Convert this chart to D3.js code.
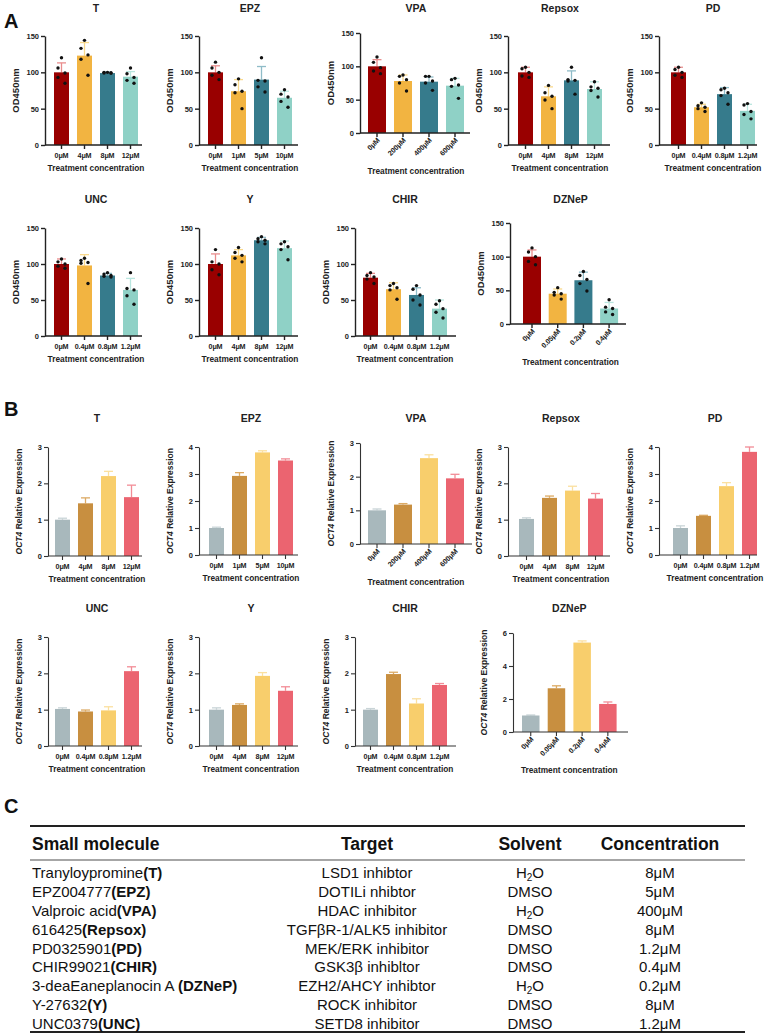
<!DOCTYPE html>
<html lang="en">
<head>
<meta charset="UTF-8">
<title>Small molecule screen</title>
<script src="https://d3js.org/d3.v7.min.js"></script>
<style>
  body { margin: 0; background: #fff; }
  svg { display: block; font-family: "Liberation Sans", Arial, sans-serif; }
</style>
</head>
<body>
<div id="chart"></div>
<script>
// ---- data ----
const drugs = ["T", "EPZ", "VPA", "Repsox", "PD", "UNC", "Y", "CHIR", "DZNeP"];

const concentrations = [
  ["0μM", "4μM", "8μM", "12μM"],
  ["0μM", "1μM", "5μM", "10μM"],
  ["0μM", "200μM", "400μM", "600μM"],
  ["0μM", "4μM", "8μM", "12μM"],
  ["0μM", "0.4μM", "0.8μM", "1.2μM"],
  ["0μM", "0.4μM", "0.8μM", "1.2μM"],
  ["0μM", "4μM", "8μM", "12μM"],
  ["0μM", "0.4μM", "0.8μM", "1.2μM"],
  ["0μM", "0.05μM", "0.2μM", "0.4μM"]
];

// panel A: OD450nm, mean and SD (upper)
const odMean = [
  [100, 123, 99, 94], [100, 74, 90, 65], [100, 78, 77, 71],
  [100, 67, 89, 77], [100, 52, 70, 47], [100, 98, 84, 64],
  [100, 112, 133, 122], [81, 65, 57, 38], [100, 45, 65, 23]
];
const odSD = [
  [13, 18, 1.5, 7], [9, 16, 18, 9], [10, 9, 7, 11],
  [7, 13, 13, 10], [7, 4, 9, 9], [7, 15, 3, 16],
  [14, 8, 4, 10], [6, 9, 10, 12], [10, 7, 12, 9]
];
const odPoints = [
  [[120, 106, 99, 93, 85], [144, 133, 124, 118, 96], [100, 100, 99, 99, 99], [106, 98, 93, 89, 85]],
  [[114, 106, 100, 96, 90], [91, 83, 74, 72, 50], [120, 89, 88, 80, 73], [76, 70, 66, 60, 52]],
  [[114, 106, 98, 93, 89], [87, 85, 80, 75, 63], [85, 85, 78, 75, 64], [82, 80, 72, 70, 52]],
  [[107, 105, 100, 95, 93], [82, 72, 67, 62, 50], [107, 90, 89, 88, 70], [87, 80, 78, 75, 66]],
  [[107, 104, 100, 96, 93], [58, 54, 52, 50, 46], [78, 76, 72, 68, 56], [57, 55, 46, 42, 36]],
  [[107, 103, 100, 97, 94], [108, 105, 102, 101, 73], [88, 86, 84, 83, 82], [88, 66, 64, 56, 44]],
  [[120, 103, 100, 92, 85], [123, 116, 112, 108, 103], [138, 135, 133, 131, 128], [131, 128, 124, 120, 106]],
  [[88, 84, 82, 79, 73], [73, 70, 67, 64, 51], [70, 65, 57, 50, 43], [49, 44, 38, 33, 25]],
  [[113, 107, 100, 93, 88], [54, 47, 45, 43, 37], [78, 72, 66, 60, 49], [36, 25, 23, 18, 14]]
];
const odTicks = [0, 50, 100, 150];

// panel B: OCT4 relative expression, mean and SD (upper)
const oct4Mean = [
  [1.0, 1.45, 2.2, 1.62], [1.0, 2.93, 3.8, 3.5], [1.0, 1.17, 2.55, 1.95],
  [1.02, 1.6, 1.8, 1.58], [1.0, 1.45, 2.55, 3.82], [1.02, 0.95, 0.98, 2.06],
  [1.0, 1.13, 1.93, 1.52], [1.0, 1.98, 1.17, 1.68], [1.0, 2.65, 5.42, 1.7]
];
const oct4SD = [
  [0.04, 0.15, 0.13, 0.33], [0.03, 0.12, 0.06, 0.06], [0.04, 0.03, 0.1, 0.12],
  [0.03, 0.05, 0.12, 0.14], [0.08, 0.02, 0.13, 0.18], [0.03, 0.04, 0.1, 0.12],
  [0.05, 0.03, 0.09, 0.11], [0.03, 0.05, 0.13, 0.04], [0.03, 0.15, 0.1, 0.12]
];
const oct4Ticks = [
  [0, 1, 2, 3], [0, 1, 2, 3, 4], [0, 1, 2, 3], [0, 1, 2, 3], [0, 1, 2, 3, 4],
  [0, 1, 2, 3], [0, 1, 2, 3], [0, 1, 2, 3], [0, 2, 4, 6]
];

// panel C table
const tableHeaders = ["Small molecule", "Target", "Solvent", "Concentration"];
const moleculeNames = ["Tranyloypromine", "EPZ004777", "Valproic acid", "616425", "PD0325901",
  "CHIR99021", "3-deaEaneplanocin A ", "Y-27632", "UNC0379"];
const moleculeAbbr = ["(T)", "(EPZ)", "(VPA)", "(Repsox)", "(PD)", "(CHIR)", "(DZNeP)", "(Y)", "(UNC)"];
const targets = ["LSD1 inhibtor", "DOTILi nhibtor", "HDAC inhibitor", "TGFβR-1/ALK5 inhibitor",
  "MEK/ERK inhibitor", "GSK3β inhibltor", "EZH2/AHCY inhibtor", "ROCK inhibitor", "SETD8 inhibitor"];
const solvents = ["H2O", "DMSO", "H2O", "DMSO", "DMSO", "DMSO", "H2O", "DMSO", "DMSO"];
const tableConc = ["8μM", "5μM", "400μM", "8μM", "1.2μM", "0.4μM", "0.2μM", "8μM", "1.2μM"];

// ---- layout ----
const colorsA = ["#990000", "#f2b441", "#367b8c", "#8fd1c6"];
const errColorsA = ["#e98d8d", "#f9d98c", "#8fbcc8", "#b9e6df"];
const colorsB = ["#a8b8bc", "#c88f40", "#f8ce6c", "#eb6470"];
const errColorsB = ["#c9d4d7", "#dcaa64", "#fbe0a0", "#f28c96"];

const layoutA = [
  {ax: 45, xEnd: 142, top: 36, bottom: 145, bar0: 54, titleY: 12},
  {ax: 199, xEnd: 298, top: 36, bottom: 145, bar0: 208, titleY: 12},
  {ax: 360, xEnd: 470, top: 33, bottom: 133, bar0: 368, step: 26, bw: 18, rot: true, titleY: 12},
  {ax: 508, xEnd: 610, top: 36, bottom: 145, bar0: 518, titleY: 12},
  {ax: 659, xEnd: 757, top: 36, bottom: 145, bar0: 671, titleY: 12},
  {ax: 45, xEnd: 142, top: 228, bottom: 336, bar0: 54, titleY: 203},
  {ax: 199, xEnd: 298, top: 228, bottom: 336, bar0: 208, titleY: 203},
  {ax: 355, xEnd: 456, top: 228, bottom: 336, bar0: 363, titleY: 203},
  {ax: 510, xEnd: 626, top: 223, bottom: 324, bar0: 523, step: 25.7, bw: 18, rot: true, titleY: 203}
];
const layoutB = [
  {ax: 48, xEnd: 142, top: 447, bottom: 556, bar0: 55, titleY: 422},
  {ax: 199, xEnd: 298, top: 447, bottom: 555, bar0: 209, titleY: 422},
  {ax: 360, xEnd: 472, top: 443, bottom: 544, bar0: 368, step: 26, bw: 18, rot: true, titleY: 422},
  {ax: 508, xEnd: 610, top: 447, bottom: 556, bar0: 519, titleY: 422},
  {ax: 659, xEnd: 757, top: 447, bottom: 555, bar0: 673, titleY: 422},
  {ax: 48, xEnd: 142, top: 637, bottom: 746, bar0: 55, titleY: 612},
  {ax: 199, xEnd: 298, top: 637, bottom: 746, bar0: 209, titleY: 612},
  {ax: 355, xEnd: 456, top: 637, bottom: 746, bar0: 363, titleY: 612},
  {ax: 513, xEnd: 628, top: 633, bottom: 732, bar0: 522, step: 25.7, bw: 17.5, rot: true, titleY: 612}
];

const dotOffsets = [0, -3.5, 3.5, -3.5, 3.5];

const svg = d3.select("#chart").append("svg")
  .attr("width", 767)
  .attr("height", 1034);

function drawPanel(cfg) {
  const lay = cfg.lay;
  const step = lay.step || 23;
  const bw = lay.bw || 15;
  const g = svg.append("g");

  const x = d3.scaleBand()
    .domain(cfg.labels)
    .range([lay.bar0, lay.bar0 + 3 * step + bw])
    .paddingInner((step - bw) / step)
    .paddingOuter(0);
  const y = d3.scaleLinear()
    .domain([0, d3.max(cfg.ticks)])
    .range([lay.bottom, lay.top]);
  const cx = (i) => x(cfg.labels[i]) + x.bandwidth() / 2;
  const mid = (lay.bar0 + lay.bar0 + 3 * step + bw) / 2;

  // error bars (upper half, drawn behind the bar top)
  const eb = g.selectAll(".err").data(cfg.means).join("g");
  eb.append("line")
    .attr("x1", (d, i) => cx(i)).attr("x2", (d, i) => cx(i))
    .attr("y1", (d) => y(d)).attr("y2", (d, i) => y(d + cfg.sd[i]))
    .attr("stroke", (d, i) => cfg.errColors[i]).attr("stroke-width", 1.3);
  eb.append("line")
    .attr("x1", (d, i) => cx(i) - 4.5).attr("x2", (d, i) => cx(i) + 4.5)
    .attr("y1", (d, i) => y(d + cfg.sd[i])).attr("y2", (d, i) => y(d + cfg.sd[i]))
    .attr("stroke", (d, i) => cfg.errColors[i]).attr("stroke-width", 1.3);

  // bars
  g.selectAll(".bar").data(cfg.means).join("rect")
    .attr("x", (d, i) => x(cfg.labels[i]))
    .attr("y", (d) => y(d))
    .attr("width", x.bandwidth())
    .attr("height", (d) => y(0) - y(d))
    .attr("fill", (d, i) => cfg.colors[i]);

  // individual points
  if (cfg.points) {
    cfg.points.forEach((pts, i) => {
      g.selectAll(null).data(pts).join("circle")
        .attr("cx", (d, j) => cx(i) + dotOffsets[j])
        .attr("cy", (d) => y(d))
        .attr("r", 1.7)
        .attr("fill", "#111");
    });
  }

  // y axis
  const yAxis = g.append("g")
    .attr("transform", `translate(${lay.ax},0)`)
    .call(d3.axisLeft(y).tickValues(cfg.ticks).tickFormat(d3.format("d"))
      .tickSize(4).tickSizeOuter(0).tickPadding(2));
  yAxis.selectAll("path, line").attr("stroke", cfg.axisColor).attr("stroke-width", cfg.axisWidth);
  yAxis.selectAll("text")
    .attr("font-size", cfg.tickFont).attr("font-weight", "bold").attr("fill", "#222")
    .attr("font-family", "'Liberation Sans', Arial, sans-serif");

  // x axis
  g.append("line")
    .attr("x1", lay.ax).attr("x2", lay.xEnd)
    .attr("y1", y(0)).attr("y2", y(0))
    .attr("stroke", cfg.axisColor).attr("stroke-width", cfg.axisWidth);
  g.selectAll(".xt").data(cfg.labels).join("line")
    .attr("x1", (d, i) => cx(i)).attr("x2", (d, i) => cx(i))
    .attr("y1", y(0)).attr("y2", y(0) + 4)
    .attr("stroke", cfg.axisColor).attr("stroke-width", cfg.axisWidth);

  const xl = g.selectAll(".xl").data(cfg.labels).join("text")
    .attr("font-size", 7.2).attr("font-weight", "bold").attr("fill", "#222")
    .attr("letter-spacing", -0.2)
    .text((d) => d);
  if (lay.rot) {
    xl.attr("text-anchor", "end")
      .attr("transform", (d, i) => `translate(${cx(i) + 3},${y(0) + 8}) rotate(-45)`);
  } else {
    xl.attr("text-anchor", "middle")
      .attr("x", (d, i) => cx(i)).attr("y", y(0) + 13);
  }

  g.append("text")
    .attr("x", mid)
    .attr("y", y(0) + (lay.rot ? 41 : 26))
    .attr("text-anchor", "middle")
    .attr("font-size", 8.3).attr("font-weight", "bold").attr("fill", "#222")
    .text("Treatment concentration");

  // title
  g.append("text")
    .attr("x", mid).attr("y", lay.titleY)
    .attr("text-anchor", "middle")
    .attr("font-size", 10.5).attr("font-weight", "bold").attr("fill", "#222")
    .text(cfg.title);

  // y label
  const yl = g.append("text")
    .attr("transform", `translate(${lay.ax - 26},${(lay.top + lay.bottom) / 2}) rotate(-90)`)
    .attr("text-anchor", "middle")
    .attr("font-weight", "bold").attr("fill", "#222");
  if (cfg.yItalic) {
    yl.attr("font-size", 8.5);
    yl.append("tspan").attr("font-style", "italic").text(cfg.yItalic);
    yl.append("tspan").text(cfg.yLabel);
  } else {
    yl.attr("font-size", 9.5).text(cfg.yLabel);
  }
}

drugs.forEach((name, i) => {
  drawPanel({
    lay: layoutA[i], labels: concentrations[i], means: odMean[i], sd: odSD[i],
    points: odPoints[i], ticks: odTicks, colors: colorsA, errColors: errColorsA,
    title: name, yLabel: "OD450nm", axisColor: "#222", axisWidth: 1.4, tickFont: 7.5
  });
  drawPanel({
    lay: layoutB[i], labels: concentrations[i], means: oct4Mean[i], sd: oct4SD[i],
    points: null, ticks: oct4Ticks[i], colors: colorsB, errColors: errColorsB,
    title: name, yItalic: "OCT4", yLabel: " Relative Expression",
    axisColor: "#333", axisWidth: 1.1, tickFont: 7.5
  });
});

// panel letters
[["A", 28], ["B", 416], ["C", 813]].forEach(([t, yy]) => {
  svg.append("text")
    .attr("x", 4).attr("y", yy)
    .attr("font-size", 20).attr("font-weight", "bold").attr("fill", "#111")
    .text(t);
});

// ---- table ----
const colX = [32, 367, 530, 660];
const tbl = svg.append("g").attr("fill", "#111");

tbl.append("line").attr("x1", 30).attr("x2", 745).attr("y1", 826).attr("y2", 826)
  .attr("stroke", "#222").attr("stroke-width", 2);
tbl.append("line").attr("x1", 30).attr("x2", 745).attr("y1", 860).attr("y2", 860)
  .attr("stroke", "#888").attr("stroke-width", 1.5);
tbl.append("line").attr("x1", 30).attr("x2", 745).attr("y1", 1032).attr("y2", 1032)
  .attr("stroke", "#222").attr("stroke-width", 2);

tbl.selectAll(".hd").data(tableHeaders).join("text")
  .attr("x", (d, i) => colX[i]).attr("y", 850)
  .attr("text-anchor", (d, i) => (i === 0 ? "start" : "middle"))
  .attr("font-size", 17.5).attr("font-weight", "bold")
  .text((d) => d);

const rowY = d3.scalePoint().domain(d3.range(moleculeNames.length)).range([878, 1029]);

const nameText = tbl.selectAll(".nm").data(moleculeNames).join("text")
  .attr("x", colX[0]).attr("y", (d, i) => rowY(i))
  .attr("font-size", 15);
nameText.append("tspan").text((d) => d);
nameText.append("tspan").attr("font-weight", "bold").text((d, i) => moleculeAbbr[i]);

tbl.selectAll(".tg").data(targets).join("text")
  .attr("x", colX[1]).attr("y", (d, i) => rowY(i))
  .attr("text-anchor", "middle").attr("font-size", 15)
  .text((d) => d);

const solv = tbl.selectAll(".sv").data(solvents).join("text")
  .attr("x", colX[2]).attr("y", (d, i) => rowY(i))
  .attr("text-anchor", "middle").attr("font-size", 15);
solv.each(function (d) {
  const t = d3.select(this);
  if (d === "H2O") {
    t.append("tspan").text("H");
    t.append("tspan").attr("font-size", 10).attr("dy", 3).text("2");
    t.append("tspan").attr("dy", -3).text("O");
  } else {
    t.text(d);
  }
});

tbl.selectAll(".cc").data(tableConc).join("text")
  .attr("x", colX[3]).attr("y", (d, i) => rowY(i))
  .attr("text-anchor", "middle").attr("font-size", 15)
  .text((d) => d);
</script>
</body>
</html>
